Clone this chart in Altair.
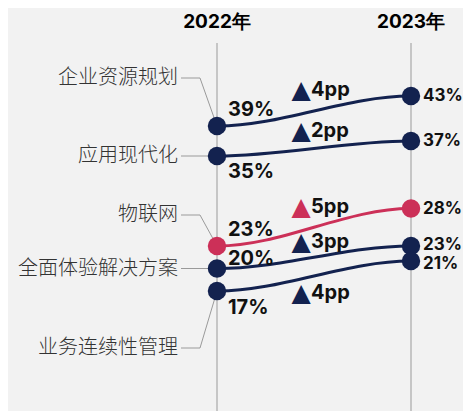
import altair as alt
import pandas as pd

# ---------------- data ----------------
categories = ["企业资源规划", "应用现代化", "物联网", "全面体验解决方案", "业务连续性管理"]
values_2022 = [39, 35, 23, 20, 17]
values_2023 = [43, 37, 28, 23, 21]
years = [2022, 2023]
year_labels = ["2022年", "2023年"]
highlight = "物联网"

# ---------------- layout / style ----------------
NAVY = "#13224f"
RED = "#cc3058"
GRID = "#9a9a9a"
BG = "#f2f2f2"
X_RANGE = [209, 403]
Y_DOMAIN = [17, 43]
Y_RANGE = [283, 88]
PX_PER_PT = (Y_RANGE[0] - Y_RANGE[1]) / (Y_DOMAIN[1] - Y_DOMAIN[0])
PX_PER_YEAR = X_RANGE[1] - X_RANGE[0]
EPS = 0.002

label_off_px = [-48, 0, -31, 0, 57]      # category label vs 2022 point
v22_off_px = [-16, 16, -16, -10, 17]     # 2022 value label
v23_off_px = [0, 0, 0, -1, 3]            # 2023 value label
delta_off_px = [-21, -18, -20, -15, 17]  # delta label vs curve midpoint
conn_x_px = [-36, -17]                   # connector start / elbow vs 2022 axis

NUM_FONT = "Inter"
CJK_FONT = "Noto Sans CJK SC"

xs = alt.Scale(domain=years, range=X_RANGE)
ys = alt.Scale(domain=Y_DOMAIN, range=Y_RANGE)

rows, curves, conns = [], [], []
for i, c in enumerate(categories):
    a, b = values_2022[i], values_2023[i]
    col = RED if c == highlight else NAVY
    lab_y = a - label_off_px[i] / PX_PER_PT
    rows.append(dict(cat=c, v22=a, v23=b, color=col,
                     lab_y=lab_y,
                     y22=a - v22_off_px[i] / PX_PER_PT,
                     y23=b - v23_off_px[i] / PX_PER_PT,
                     dy=(a + b) / 2 - delta_off_px[i] / PX_PER_PT,
                     xmid=(years[0] + years[1]) / 2,
                     dtxt=f"{b - a}pp",
                     t22=f"{a}%", t23=f"{b}%"))
    for o, (xx, vv) in enumerate([(years[0], a), (years[0] + EPS, a),
                                  (years[1] - EPS, b), (years[1], b)]):
        curves.append(dict(cat=c, x=xx, v=vv, o=o, color=col))
    for o, (xx, vv) in enumerate([(years[0] + conn_x_px[0] / PX_PER_YEAR, lab_y),
                                  (years[0] + conn_x_px[1] / PX_PER_YEAR, lab_y),
                                  (years[0], a)]):
        conns.append(dict(cat=c, x=xx, v=vv, o=o))

df = pd.DataFrame(rows)
curve_df = pd.DataFrame(curves)
conn_df = pd.DataFrame(conns)
year_df = pd.DataFrame({"year": years, "label": year_labels})
pts = pd.concat([
    pd.DataFrame({"cat": categories, "x": years[0], "v": values_2022, "color": df["color"]}),
    pd.DataFrame({"cat": categories, "x": years[1], "v": values_2023, "color": df["color"]}),
])

X = lambda f: alt.X(f, type="quantitative", scale=xs, axis=None)
Y = lambda f: alt.Y(f, type="quantitative", scale=ys, axis=None)

rules = alt.Chart(year_df).mark_rule(color=GRID, strokeWidth=1).encode(
    x=X("year"), y=alt.value(35), y2=alt.value(411))

headers = alt.Chart(year_df).mark_text(font=NUM_FONT, fontSize=19, fontWeight="bold",
                                       color="#000", baseline="middle").encode(
    x=X("year"), y=alt.value(14), text="label:N")

connectors = alt.Chart(conn_df).mark_line(color=GRID, strokeWidth=1).encode(
    x=X("x"), y=Y("v"), detail="cat:N", order="o:Q")

lines = alt.Chart(curve_df).mark_line(interpolate="monotone", strokeWidth=3).encode(
    x=X("x"), y=Y("v"), color=alt.Color("color:N", scale=None), detail="cat:N", order="o:Q")

dots = alt.Chart(pts).mark_circle(size=340, opacity=1).encode(
    x=X("x"), y=Y("v"), color=alt.Color("color:N", scale=None))

cat_labels = alt.Chart(df).mark_text(align="right", baseline="middle", font=CJK_FONT,
                                     fontSize=20, fontWeight=300, color="#333", dx=-39).encode(
    x=alt.X("datum_x:Q", scale=xs, axis=None), y=Y("lab_y"), text="cat:N"
).transform_calculate(datum_x=str(years[0]))

lab22 = alt.Chart(df).mark_text(align="left", baseline="middle", font=NUM_FONT, fontSize=20,
                                fontWeight="bold", color="#111", dx=11).encode(
    x=alt.X("datum_x:Q", scale=xs, axis=None), y=Y("y22"), text="t22:N"
).transform_calculate(datum_x=str(years[0]))

lab23 = alt.Chart(df).mark_text(align="left", baseline="middle", font=NUM_FONT, fontSize=17,
                                fontWeight="bold", color="#111", dx=12).encode(
    x=alt.X("datum_x:Q", scale=xs, axis=None), y=Y("y23"), text="t23:N"
).transform_calculate(datum_x=str(years[1]))

tri = alt.Chart(df).mark_text(align="center", baseline="middle", font="DejaVu Sans",
                              fontSize=25, dx=-13, text="▲").encode(
    x=X("xmid"), y=Y("dy"), color=alt.Color("color:N", scale=None))

dtext = alt.Chart(df).mark_text(align="left", baseline="middle", font=NUM_FONT, fontSize=20,
                                fontWeight="bold", color="#111", dx=-3).encode(
    x=X("xmid"), y=Y("dy"), text="dtxt:N")

chart = alt.layer(rules, headers, connectors, lines, dots, cat_labels, lab22, lab23, tri, dtext
).properties(width=455, height=403, autosize="none", padding=0
).configure(background=BG).configure_view(stroke=None)

chart.save("out.html", embed_options={"renderer": "svg", "actions": False})
